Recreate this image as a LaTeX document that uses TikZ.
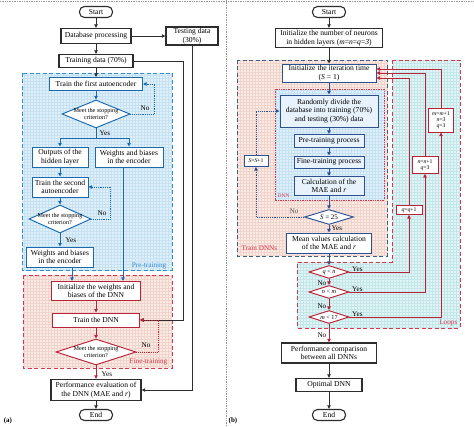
\documentclass[tikz,border=0pt]{standalone}
\usepackage{fontspec}
\setmainfont{Liberation Serif}
\usetikzlibrary{shapes.geometric,arrows.meta}
\definecolor{ink}{RGB}{45,45,45}
\definecolor{pbd}{RGB}{25,105,175}
\definecolor{pbl}{RGB}{50,140,210}
\definecolor{pfill}{RGB}{224,240,250}
\definecolor{pgridc}{RGB}{198,225,242}
\definecolor{fbd}{RGB}{185,35,55}
\definecolor{fdash}{RGB}{215,55,75}
\definecolor{ffill}{RGB}{252,234,228}
\definecolor{fgridc}{RGB}{240,212,204}
\definecolor{nvy}{RGB}{45,80,145}
\definecolor{nvdash}{RGB}{60,95,140}
\definecolor{boxbl}{RGB}{232,242,252}
\definecolor{lbd}{RGB}{185,35,55}
\definecolor{cfill}{RGB}{224,245,245}
\definecolor{cgridc}{RGB}{196,230,232}
\definecolor{divc}{RGB}{150,150,150}
\begin{document}
\begin{tikzpicture}[x=1pt,y=-1pt,
 base/.style={align=center, inner sep=0.5pt, font=\fontsize{7.6}{8.4}\selectfont},
 kbox/.style={base, draw=ink, line width=1.1pt, fill=white},
 term/.style={kbox, rounded corners=5pt, minimum width=33, minimum height=11},
 bbox/.style={base, draw=pbd, line width=0.95pt, fill=white},
 rbox/.style={base, draw=fbd, line width=0.95pt, fill=white},
 nbox/.style={base, draw=nvy, line width=0.95pt, fill=white},
 lbox/.style={base, draw=lbd, line width=0.85pt, fill=white, font=\fontsize{5.7}{6.2}\selectfont},
 dia/.style={diamond, draw, line width=0.95pt, fill=white, inner sep=0pt},
 dtext/.style={align=center, font=\fontsize{6.2}{6.7}\selectfont, inner sep=0pt},
 lbl/.style={font=\fontsize{7.2}{8}\selectfont, inner sep=0.5pt},
 arr/.style={-{Triangle[length=3.6pt,width=3.4pt]}, line width=0.85pt},
 lin/.style={line width=0.85pt}]
\useasboundingbox (0,0) rectangle (474,427);
% frame
\draw[divc, densely dotted, line width=0.7pt] (0,1) -- (474,1);
\draw[divc, densely dotted, line width=0.7pt] (226,0) -- (226,427);

% ---------------- containers (a)
\fill[pfill] (22,73) rectangle (172,270);
\draw[pgridc, line width=0.2pt, step=3pt] (22,270) grid (172,73);
\draw[pbl, line width=0.9pt, dash pattern=on 4pt off 2.5pt] (22,73) rectangle (172,270);
\fill[ffill] (23,275) rectangle (172,368);
\draw[fgridc, line width=0.2pt, step=3pt] (23,368) grid (172,275);
\draw[fdash, line width=0.9pt, dash pattern=on 4pt off 2.5pt] (23,275) rectangle (172,368);

% ---------------- containers (b)
\fill[ffill] (237,60) rectangle (387,256);
\draw[fgridc, line width=0.2pt, step=3pt] (237,256) grid (387,60);
\draw[nvdash, line width=0.9pt, dash pattern=on 4pt off 2.5pt] (237,60) rectangle (387,256);
\fill[pfill] (275,89) rectangle (384,200);
\draw[pgridc, line width=0.2pt, step=3pt] (275,200) grid (384,89);
\draw[fdash, line width=0.7pt, densely dotted] (275,89) rectangle (384,200);
\fill[cfill] (392,60) -- (460,60) -- (460,328) -- (297,328) -- (297,262) -- (392,262) -- cycle;
\begin{scope}
\clip (392,60) -- (460,60) -- (460,328) -- (297,328) -- (297,262) -- (392,262) -- cycle;
\draw[cgridc, line width=0.2pt, step=3pt] (297,328) grid (460,60);
\end{scope}
\draw[fdash, line width=0.9pt, dash pattern=on 4pt off 2.5pt] (392,60) -- (460,60) -- (460,328) -- (297,328) -- (297,262) -- (392,262) -- cycle;

% ---------------- nodes (a)
\node[term] (sa) at (96,12) {Start};
\node[kbox, minimum width=70, minimum height=15] (db) at (96,36) {Database processing};
\node[kbox, minimum width=52, minimum height=18] (test) at (192,36) {Testing data\\(30\%)};
\node[kbox, minimum width=74, minimum height=13] (tr) at (96,61) {Training data (70\%)};
\node[bbox, minimum width=93, minimum height=13] (a1) at (96,84) {Train the first autoencoder};
\node[dia, draw=pbd, minimum width=68, minimum height=28] (d1) at (96,114) {};
\node[dtext] (d1t) at (96,114) {Meet the stopping\\criterion?};
\coordinate (sp) at (96,138);
\node[bbox, minimum width=56, minimum height=20] (o1) at (60,157) {Outputs of the\\hidden layer};
\node[bbox, minimum width=68, minimum height=20] (w1) at (129,157) {Weights and biases\\in the encoder};
\node[bbox, minimum width=56, minimum height=20] (a2) at (60,187) {Train the second\\autoencoder};
\node[dia, draw=pbd, minimum width=62, minimum height=28] (d2) at (60,219) {};
\node[dtext] (d2t) at (60,219) {Meet the stopping\\criterion?};
\node[bbox, minimum width=67, minimum height=20] (w2) at (60,257) {Weights and biases\\in the encoder};
\node[rbox, minimum width=89, minimum height=19] (i1) at (96,291) {Initialize the weights and\\biases of the DNN};
\node[rbox, minimum width=87, minimum height=14] (t1) at (96,320) {Train the DNN};
\node[dia, draw=fbd, minimum width=80, minimum height=26] (d3) at (96,352) {};
\node[dtext] (d3t) at (96,352) {Meet the stopping\\criterion?};
\node[kbox, minimum width=90, minimum height=21] (pe) at (96,390) {Performance evaluation of\\the DNN (MAE and \textit{r})};
\node[term] (ea) at (96,415) {End};

% connectors (a)
\draw[arr, ink] (sa) -- (db);
\draw[arr, ink] (db) -- (tr);
\draw[arr, ink] (db) -- (test);
\draw[arr, ink] (tr) -- (a1);
\draw[arr, ink] (tr.east) -- ++(50,0) |- (t1.east);
\draw[arr, ink] (test.south) |- (pe.east);
\draw[arr, pbd] (a1) -- (d1);
\draw[lin, pbd] (d1.south) -- (sp);
\draw[arr, pbd] (sp) -| (o1.north);
\draw[arr, pbd] (sp) -| (w1.north);
\node[lbl, anchor=west] (y1) at (99,133) {Yes};
\draw[arr, pbd, densely dotted] (d1.east) -- ++(24,0) |- (a1.east);
\node[lbl] (n1) at (145,108) {No};
\draw[arr, pbd] (o1) -- (a2);
\draw[arr, pbd] (a2) -- (d2);
\draw[arr, pbd] (d2) -- (w2);
\node[lbl, anchor=west] (y2) at (65,240) {Yes};
\draw[arr, pbd, densely dotted] (d2.east) -- ++(19,0) |- (a2.east);
\node[lbl] (n2) at (102,213) {No};
\draw[arr, pbd] ([xshift=-6pt]w1.south) -- ([xshift=-6pt]w1.south |- i1.north);
\draw[arr, pbd] ([xshift=12pt]w2.south) -- ([xshift=12pt]w2.south |- i1.north);
\draw[arr, fbd] (i1) -- (t1);
\draw[arr, fbd] (t1) -- (d3);
\draw[arr, fbd] (d3) -- (pe);
\draw[arr, fbd, densely dotted] (d3.east) -- ++(22,0) |- (t1.east);
\node[lbl] (n3) at (146,345) {No};
\node[lbl, anchor=west] (y3) at (101,374) {Yes};
\draw[arr, ink] (pe) -- (ea);
\node[lbl, text=pbl, anchor=base east] (ptl) at (167,268) {Pre-training};
\node[lbl, text=fdash, anchor=base east] (ftl) at (168,364) {Fine-training};
\node[lbl, font=\fontsize{7}{8}\selectfont\bfseries] (la) at (8,421) {(a)};

% ---------------- nodes (b)
\node[term] (sb) at (329,12) {Start};
\node[kbox, minimum width=107, minimum height=19] (nn) at (329,38) {Initialize the number of neurons\\in hidden layers (\textit{m}=\textit{n}=\textit{q}=\textit{3})};
\node[nbox, minimum width=94, minimum height=18] (it) at (329,73) {Initialize the iteration time\\(\textit{S} = 1)};
\node[nbox, fill=boxbl, minimum width=98, minimum height=32] (rd) at (329,111) {Randomly divide the\\database into training (70\%)\\and testing (30\%) data};
\node[nbox, fill=boxbl, minimum width=70, minimum height=13] (pp) at (329,141) {Pre-training process};
\node[nbox, fill=boxbl, minimum width=70, minimum height=12] (fp) at (329,162) {Fine-training process};
\node[nbox, fill=boxbl, minimum width=70, minimum height=19] (cm) at (329,186) {Calculation of the\\MAE and \textit{r}};
\node[dia, draw=nvy, minimum width=49, minimum height=15] (s25) at (329,217) {};
\node[dtext, font=\fontsize{7}{8}\selectfont] (s25t) at (329,217) {\textit{S} = 25};
\node[lbox, draw=nvy, minimum width=24, minimum height=11] (ss) at (256,161) {\textit{S}=\textit{S}+1};
\node[nbox, minimum width=85, minimum height=20] (mv) at (329,243) {Mean values calculation\\of the MAE and \textit{r}};
\node[dia, draw=lbd, minimum width=40, minimum height=13] (qn) at (329,272) {};
\node[dtext] (qnt) at (329,272) {\textit{q} < \textit{n}};
\node[dia, draw=lbd, minimum width=40, minimum height=13] (nm) at (329,292) {};
\node[dtext] (nmt) at (329,292) {\textit{n} < \textit{m}};
\node[dia, draw=lbd, minimum width=40, minimum height=13] (m17) at (329,317) {};
\node[dtext] (m17t) at (329,317) {\textit{m} < 17};
\node[lbox, minimum width=26, minimum height=9] (qb) at (409,210) {\textit{q}=\textit{q}+1};
\node[lbox, minimum width=26, minimum height=17] (nbx) at (425,165) {\textit{n}=\textit{n}+1\\\textit{q}=3};
\node[lbox, minimum width=25, minimum height=24] (mb) at (441,120) {\textit{m}=\textit{m}+1\\\textit{n}=3\\\textit{q}=3};
\node[kbox, minimum width=95, minimum height=20] (pc) at (329,353) {Performance comparison\\between all DNNs};
\node[kbox, minimum width=66, minimum height=13] (od) at (329,385) {Optimal DNN};
\node[term] (eb) at (329,415) {End};

% connectors (b)
\draw[arr, ink] (sb) -- (nn);
\draw[arr, ink] (nn) -- (it);
\draw[arr, nvy] (it) -- (rd);
\draw[arr, nvy] (rd) -- (pp);
\draw[arr, nvy] (pp) -- (fp);
\draw[arr, nvy] (fp) -- (cm);
\draw[arr, nvy] (cm) -- (s25);
\draw[arr, nvy] (s25) -- (mv);
\node[lbl, anchor=west] (yS) at (331,228) {Yes};
\draw[arr, nvy, densely dotted] (s25.west) -| (ss.south);
\draw[arr, nvy, densely dotted] (ss.north) |- (rd.west);
\node[lbl, text=ink!80] (nS) at (294,211) {No};
\draw[arr, nvy] (mv) -- (qn);
\draw[arr, lbd] (qn) -- (nm);
\draw[arr, lbd] (nm) -- (m17);
\draw[arr, lbd] (m17) -- (pc);
\node[lbl, anchor=east] (nq) at (327,283) {No};
\node[lbl, anchor=east] (nn2) at (327,306) {No};
\node[lbl, anchor=east] (nm2) at (327,335) {No};
\draw[arr, lbd] (qn.east) -| (qb.south);
\draw[arr, lbd] (qb.north) |- ([yshift=-5pt]it.east);
\draw[arr, lbd] (nm.east) -| (nbx.south);
\draw[arr, lbd] (nbx.north) |- (it.east);
\draw[arr, lbd] (m17.east) -| (mb.south);
\draw[arr, lbd] (mb.north) |- ([yshift=4pt]it.east);
\node[lbl, anchor=south west] (yq) at ([xshift=2pt]qn.east) {Yes};
\node[lbl, anchor=south west] (yn) at ([xshift=2pt]nm.east) {Yes};
\node[lbl, anchor=south west] (ym) at ([xshift=2pt]m17.east) {Yes};
\draw[arr, ink] (pc) -- (od);
\draw[arr, ink] (od) -- (eb);
\node[lbl, text=fdash, anchor=base west] (tdl) at (241,251) {Train DNNs};
\node[lbl, text=fdash, anchor=west, font=\fontsize{5.5}{6}\selectfont] (dnl) at (277,196) {DNN};
\node[lbl, text=fdash, anchor=base east] (lpl) at (458,325) {Loops};
\node[lbl, font=\fontsize{7}{8}\selectfont\bfseries] (lbb) at (233,421) {(b)};
\end{tikzpicture}
\end{document}
